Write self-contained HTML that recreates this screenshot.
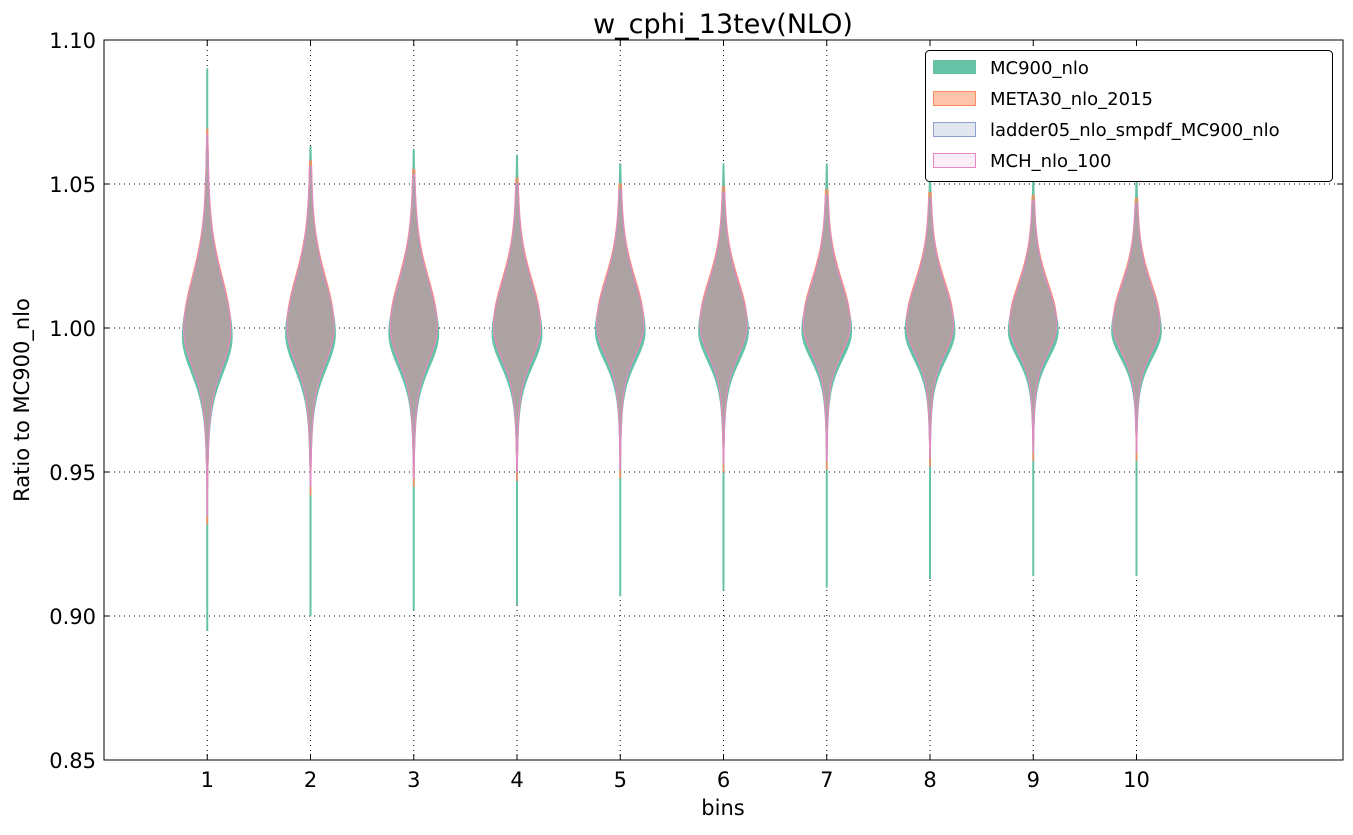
<!DOCTYPE html>
<html><head><meta charset="utf-8"><style>
body{margin:0;background:#fff;}
svg text{font-family:"DejaVu Sans","Liberation Sans",sans-serif;}
</style></head><body>
<svg id="chart" width="1353" height="830" xmlns="http://www.w3.org/2000/svg">
<rect x="0" y="0" width="1353" height="830" fill="#fff"/>
<g id="grid"></g>
<g id="violins"></g>
<rect x="104" y="40" width="1239" height="720" fill="none" stroke="#000" stroke-width="1"/>
<g id="axes"></g>
<text x="723" y="33" font-size="27" text-anchor="middle">w_cphi_13tev(NLO)</text>
<text x="723" y="815" font-size="21" text-anchor="middle">bins</text>
<text x="29" y="400" font-size="21" text-anchor="middle" transform="rotate(-90 29 400)">Ratio to MC900_nlo</text>
<g>
<rect x="925.5" y="50.5" width="407" height="131" rx="4" fill="#fff" stroke="#000" stroke-width="1"/>
<g><rect x="933" y="60" width="43" height="14" fill="#66c2a5"/><text x="990" y="74" font-size="18">MC900_nlo</text></g>
<g><rect x="933.5" y="91.5" width="42" height="14" fill="#fdc3ab" stroke="#fc8d62"/><text x="990" y="105" font-size="18">META30_nlo_2015</text></g>
<g><rect x="933.5" y="122.5" width="42" height="14" fill="#e2e6f1" stroke="#8da0cb"/><text x="990" y="136" font-size="18">ladder05_nlo_smpdf_MC900_nlo</text></g>
<g><rect x="933.5" y="153.5" width="42" height="14" fill="#fbeef6" stroke="#e78ac3"/><text x="990" y="167" font-size="18">MCH_nlo_100</text></g>
</g>
</svg>
<script>
const bins = [1,2,3,4,5,6,7,8,9,10];
const yTicks = [0.85,0.90,0.95,1.00,1.05,1.10];
const yTickLabels = ["0.85","0.90","0.95","1.00","1.05","1.10"];
const mcMax = [1.090,1.063,1.062,1.060,1.057,1.057,1.057,1.055,1.055,1.055];
const mcMin = [0.895,0.900,0.902,0.904,0.907,0.909,0.910,0.913,0.914,0.914];
const mchMax = [1.067,1.056,1.053,1.050,1.048,1.047,1.046,1.045,1.044,1.043];
const mchMin = [0.935,0.945,0.948,0.950,0.951,0.953,0.954,0.955,0.957,0.957];
const modes = [0.997,0.998,0.998,0.998,0.999,0.999,0.999,0.999,0.999,0.999];
const sigUp = [0.017,0.016,0.0155,0.015,0.0145,0.014,0.014,0.0135,0.013,0.013];
const sigDown = [0.012,0.0115,0.011,0.0105,0.010,0.010,0.0095,0.0095,0.009,0.009];
const NS="http://www.w3.org/2000/svg";
const X0=104,X1=1343,Y0=40,Y1=760;
const xs=v=>X0+(v-0)/(12-0)*(X1-X0);
const ys=v=>Y1-(v-0.85)/(0.25)*(Y1-Y0);
const grid=document.getElementById('grid'),axes=document.getElementById('axes'),vg=document.getElementById('violins');
function mk(tag,attrs,parent){const e=document.createElementNS(NS,tag);for(const k in attrs)e.setAttribute(k,attrs[k]);parent.appendChild(e);return e;}
yTicks.forEach((t,i)=>{
  const y=ys(t);
  if(i>0&&i<yTicks.length-1){const l=mk('line',{x1:X0,x2:X1,y1:y,y2:y,stroke:'#000','stroke-dasharray':'1,4','stroke-width':1},grid);
  
  }
  mk('line',{x1:X0,x2:X0+6,y1:y,y2:y,stroke:'#000'},axes);
  mk('line',{x1:X1,x2:X1-6,y1:y,y2:y,stroke:'#000'},axes);
  const tx=mk('text',{x:X0-8,y:y+8,'font-size':21,'text-anchor':'end'},axes);tx.textContent=yTickLabels[i];
  
  
});
bins.forEach(b=>{
  const x=xs(b);
  const l=mk('line',{x1:x,x2:x,y1:Y0,y2:Y1,stroke:'#000','stroke-dasharray':'1,4'},grid);
  
  
  mk('line',{x1:x,x2:x,y1:Y1,y2:Y1-6,stroke:'#000'},axes);
  mk('line',{x1:x,x2:x,y1:Y0,y2:Y0+6,stroke:'#000'},axes);
  const tx=mk('text',{x:x,y:Y1+27,'font-size':21,'text-anchor':'middle'},axes);tx.textContent=b;
  
  
});
function violin(i,lo,hi,m,su,sd,W,minw){
  const cx=xs(bins[i]);const N=200;let L=[],R=[];
  for(let k=0;k<=N;k++){const v=lo+(hi-lo)*k/N;const s=v>m?su:sd;
    const z=(v-m)/s;
    const w=Math.max(minw,W*(0.8*Math.exp(-0.5*z*z)+0.2*Math.exp(-0.5*z*z/4)));
    R.push((cx+w).toFixed(2)+','+ys(v).toFixed(2));L.unshift((cx-w).toFixed(2)+','+ys(v).toFixed(2));}
  return 'M'+R.join('L')+'L'+L.join('L')+'Z';
}
const styles=[
 {fill:'#66c2a5',fo:1,stroke:'#66c2a5',name:'mc900'},
 {fill:'#fc8d62',fo:0.5,stroke:'#fc8d62',name:'meta30'},
 {fill:'#8da0cb',fo:0.35,stroke:'#8da0cb',name:'ladder05'},
 {fill:'#e78ac3',fo:0.12,stroke:'#e78ac3',name:'mch'}];
bins.forEach((b,i)=>{
  const g=mk('g',{},vg);
  
  
  const defs=[
    [mcMin[i],mcMax[i],modes[i],sigUp[i],sigDown[i],25,0.6],
    [mchMin[i]-0.003,mchMax[i]+0.002,modes[i]+0.003,sigUp[i],sigDown[i]*1.05,23.5,0.3],
    [mchMin[i],mchMax[i],modes[i]+0.002,sigUp[i]*0.98,sigDown[i],23.5,0.3],
    [mchMin[i],mchMax[i],modes[i]+0.002,sigUp[i],sigDown[i],23.5,0.3]];
  defs.forEach((d,j)=>{
    const st=styles[j];
    const p=mk('path',{d:violin(i,...d),fill:st.fill,'fill-opacity':st.fo,stroke:st.stroke,'stroke-width':(j==0?0.8:1)},g);
    
    
  });
});
</script>
</body></html>
